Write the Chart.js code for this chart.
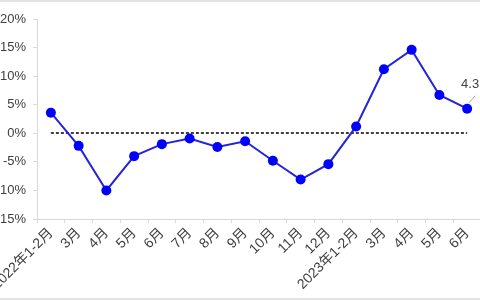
<!DOCTYPE html>
<html lang="zh">
<head>
  <meta charset="UTF-8">
  <title>增速走势</title>
  <script src="https://cdn.jsdelivr.net/npm/chart.js"></script>
  <style>
    html, body { margin: 0; padding: 0; background: #fff; overflow: hidden; }
    #frame { position: relative; width: 480px; height: 300px; overflow: hidden;
             border-top: 2px solid #e3e3e3; border-bottom: 2px solid #e3e3e3; box-sizing: border-box; }
    #wrap { position: absolute; left: -15px; top: -2px; width: 510px; height: 300px; }
  </style>
</head>
<body>
  <div id="frame">
    <div id="wrap"><canvas id="myChart" width="510" height="300"></canvas></div>
  </div>

  <script>
    // months on the x axis
    const months = ['2022年1-2月', '3月', '4月', '5月', '6月', '7月', '8月', '9月', '10月', '11月', '12月',
                    '2023年1-2月', '3月', '4月', '5月', '6月'];
    // growth rate, %
    const growth = [3.6, -2.2, -10.0, -4.0, -1.9, -0.9, -2.4, -1.4, -4.8, -8.1, -5.4, 1.2, 11.2, 14.6, 6.7, 4.3];
    // y axis range
    const yMin = -15;
    const yMax = 20;
    const yStep = 5;

    const textColor = '#404040';
    const axisColor = '#d9d9d9';
    const fontFamily = '"Liberation Sans", Arial, "Noto Sans CJK SC", sans-serif';

    // dashed line at 0%, from the first to the last point
    const zeroLine = {
      id: 'zeroLine',
      beforeDatasetsDraw(chart) {
        const x = chart.scales.x, y = chart.scales.y;
        const ctx = chart.ctx;
        const py = Math.round(y.getPixelForValue(0));
        ctx.save();
        ctx.strokeStyle = '#404040';
        ctx.lineWidth = 2;
        ctx.setLineDash([3, 2]);
        ctx.beginPath();
        ctx.moveTo(x.getPixelForValue(0), py);
        ctx.lineTo(x.getPixelForValue(months.length - 1), py);
        ctx.stroke();
        ctx.restore();
      }
    };

    // label on the last point
    const lastLabel = {
      id: 'lastLabel',
      afterDatasetsDraw(chart) {
        const meta = chart.getDatasetMeta(0);
        const i = growth.length - 1;
        const p = meta.data[i];
        const ctx = chart.ctx;
        ctx.save();
        ctx.strokeStyle = '#a6a6a6';
        ctx.lineWidth = 1;
        ctx.beginPath();
        ctx.moveTo(p.x + 2, p.y - 6);
        ctx.lineTo(p.x + 8, p.y - 13);
        ctx.stroke();
        ctx.fillStyle = textColor;
        ctx.font = '13px ' + fontFamily;
        ctx.textAlign = 'center';
        ctx.textBaseline = 'middle';
        ctx.fillText(growth[i].toFixed(1), p.x + 3, p.y - 24);
        ctx.restore();
      }
    };

    const ctx = document.getElementById('myChart').getContext('2d');
    new Chart(ctx, {
      type: 'line',
      data: {
        labels: months,
        datasets: [{
          data: growth,
          borderColor: '#2525d8',
          borderWidth: 2,
          pointRadius: 5,
          pointBackgroundColor: '#0000ff',
          pointBorderColor: '#0000ff',
          pointBorderWidth: 0,
          tension: 0,
          fill: false
        }]
      },
      options: {
        responsive: false,
        animation: false,
        layout: { padding: { top: 19, right: 14, bottom: 0, left: 0 } },
        plugins: { legend: { display: false }, tooltip: { enabled: false } },
        scales: {
          x: {
            offset: true,
            grid: { drawOnChartArea: false, offset: true, tickLength: 4, color: axisColor },
            border: { color: axisColor },
            ticks: {
              autoSkip: false, minRotation: 45, maxRotation: 45, padding: 2,
              color: textColor, font: { size: 14, family: fontFamily }
            },
            afterFit(s) { s.height = 81; }
          },
          y: {
            min: yMin, max: yMax,
            grid: { drawOnChartArea: false, tickLength: 4, color: axisColor },
            border: { color: axisColor },
            ticks: {
              stepSize: yStep, padding: 7,
              color: textColor, font: { size: 13, family: fontFamily },
              callback: v => v + '%'
            },
            afterFit(s) { s.width = 52; }
          }
        }
      },
      plugins: [zeroLine, lastLabel]
    });
  </script>
</body>
</html>
